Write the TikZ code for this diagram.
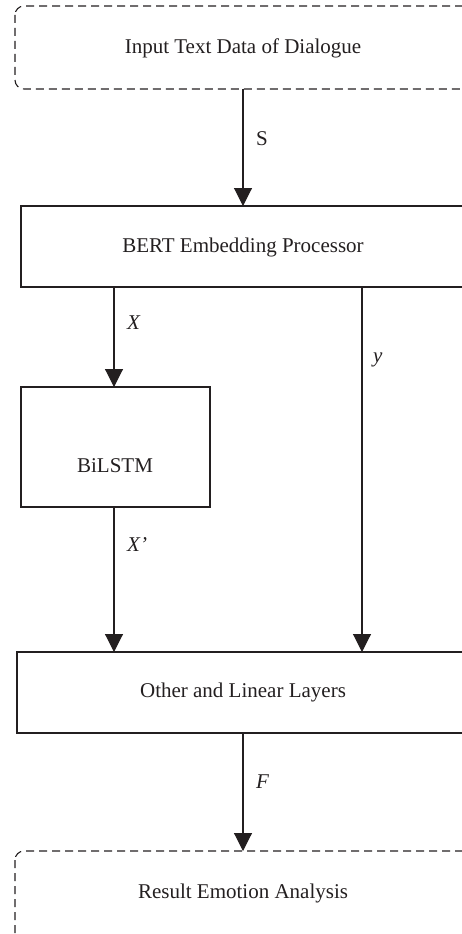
\documentclass[tikz,border=0pt]{standalone}
\usepackage{fontspec}
\setmainfont{Liberation Serif}
\usetikzlibrary{arrows.meta}
\definecolor{ink}{HTML}{231F20}
\tikzset{
  box/.style={draw=ink, line width=1.1pt},
  dashbox/.style={draw=ink, line width=1.1pt, dash pattern=on 8pt off 5pt, rounded corners=9pt},
  flow/.style={draw=ink, line width=1.1pt, -{Triangle[width=18pt,length=18pt]}},
  lbl/.style={text=ink, font=\fontsize{21}{24}\selectfont, inner sep=0pt},
  edgelbl/.style={text=ink, font=\fontsize{21}{24}\selectfont\itshape, inner sep=0pt},
}
\begin{document}
\begin{tikzpicture}[x=1pt, y=-1pt]
  \useasboundingbox (0,0) rectangle (462,934);
  \begin{scope}
  \clip (0,0) rectangle (462,934);
  % block outlines (the right-hand ends run past the page edge)
  \draw[dashbox] (15,6) rectangle (472,89);
  \draw[box] (21,206) rectangle (480,287);
  \draw[box] (21,387) rectangle (210,507);
  \draw[box] (17,652) rectangle (480,733);
  \draw[dashbox] (15,851) rectangle (472,960);
  \end{scope}
  % block captions and anchors
  \node[lbl] (in) at (243,48) {Input Text Data of Dialogue};
  \node[lbl] (bert) at (243,247) {BERT Embedding Processor};
  \node[lbl] (bilstm) at (115,466) {BiLSTM};
  \node[lbl] (other) at (243,692) {Other and Linear Layers};
  \node[lbl] (res) at (243,893) {Result Emotion Analysis};
  \coordinate (inB) at (243,89);
  \coordinate (bertT) at (243,206);
  \coordinate (bertBL) at (114,287);
  \coordinate (bertBR) at (362,287);
  \coordinate (bilT) at (114,387);
  \coordinate (bilB) at (114,507);
  \coordinate (othTL) at (114,652);
  \coordinate (othTR) at (362,652);
  \coordinate (othB) at (243,733);
  \coordinate (resT) at (243,851);
  % connectors
  \draw[flow] (inB) -- (bertT);
  \draw[flow] (bertBL) -- (bilT);
  \draw[flow] (bertBR) -- (othTR);
  \draw[flow] (bilB) -- (othTL);
  \draw[flow] (othB) -- (resT);
  % signal labels
  \node[lbl, anchor=west] (ls) at (256,139) {S};
  \node[edgelbl, anchor=west] (lx) at (127,323) {X};
  \node[edgelbl, anchor=west] (ly) at (373,360) {y};
  \node[edgelbl, anchor=west] (lxp) at (127,545) {X’};
  \node[edgelbl, anchor=west] (lf) at (256,782) {F};
\end{tikzpicture}
\end{document}
